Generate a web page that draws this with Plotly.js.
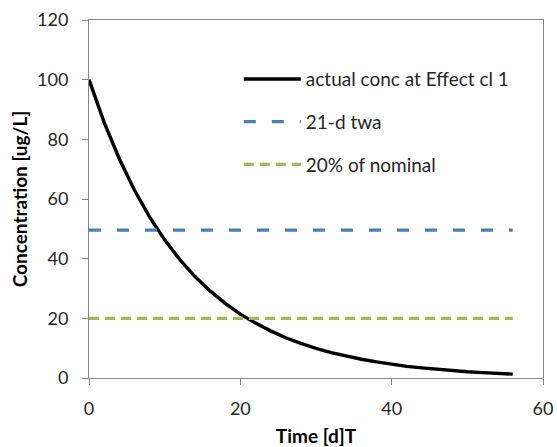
<!DOCTYPE html>
<html>
<head>
<meta charset="utf-8">
<script src="https://cdn.plot.ly/plotly-3.0.1.min.js"></script>
<style>html,body{margin:0;padding:0;background:#fff}#chart{width:557px;height:447px}</style>
</head>
<body>
<div id="chart"></div>
<script>
var timeDays = [0,2,4,6,8,10,12,14,16,18,20,22,24,26,28,30,32,34,36,38,40,42,44,46,48,50,52,54,56];
var actualConc = [100,85.7,73.5,63.0,54.0,46.3,39.7,34.0,29.2,25.0,21.4,18.4,15.8,13.5,11.6,9.9,8.5,7.3,6.3,5.4,4.6,3.9,3.4,2.9,2.5,2.1,1.8,1.6,1.3];
var twaX = [0,56];
var twaY = [49.6,49.6];
var nomX = [0,56];
var nomY = [20,20];
var seriesNames = ["actual conc at Effect cl 1","21-d twa","20% of nominal"];
var xTicks = [0,20,40,60];
var yTicks = [0,20,40,60,80,100,120];

var traces = [
  {x: timeDays, y: actualConc, name: seriesNames[0], mode: 'lines', legendgroup:'a',
   line: {color: '#000000', width: 3.4}},
  {x: twaX, y: twaY, name: seriesNames[1], mode: 'lines', legendgroup:'b',
   line: {color: '#4a7ebb', width: 3.2, dash: '12px,16px'}},
  {x: nomX, y: nomY, name: seriesNames[2], mode: 'lines', legendgroup:'c',
   line: {color: '#9bbb59', width: 3.2, dash: '10px,6px'}}
];
var fam = 'Lato, "Open Sans", sans-serif';
var axisFont = {family: fam, size: 18, color: '#262626'};
var layout = {
  width: 557, height: 447,
  margin: {l: 89, r: 14, t: 20, b: 69},
  paper_bgcolor: '#ffffff', plot_bgcolor: '#ffffff',
  showlegend: true,
  legend: {x: 0.33, y: 0.888, xanchor: 'left', yanchor: 'top', bgcolor: 'rgba(0,0,0,0)',
    font: {family: fam, size: 19, color: '#262626'},
    traceorder: 'grouped', tracegroupgap: 15, itemwidth: 57},
  xaxis: {range: [0, 60], tickvals: xTicks, ticks: 'outside', ticklen: 6, tickcolor: '#868686',
    showline: true, linecolor: '#868686', linewidth: 1, mirror: true, showgrid: false, zeroline: false,
    tickfont: axisFont, ticklabelstandoff: 8,
    title: {text: 'Time [d]T', font: {family: fam, size: 19, color: '#000', weight: 'bold'}, standoff: 14}},
  yaxis: {range: [0, 120], tickvals: yTicks, ticks: 'outside', ticklen: 6, tickcolor: '#868686',
    showline: true, linecolor: '#868686', linewidth: 1, mirror: true, showgrid: false, zeroline: false,
    tickfont: axisFont, ticklabelstandoff: 10,
    title: {text: 'Concentration [ug/L]', font: {family: fam, size: 19, color: '#000', weight: 'bold'}, standoff: 4}}
};
Plotly.newPlot('chart', traces, layout, {displayModeBar: false, staticPlot: true});
</script>
</body>
</html>
